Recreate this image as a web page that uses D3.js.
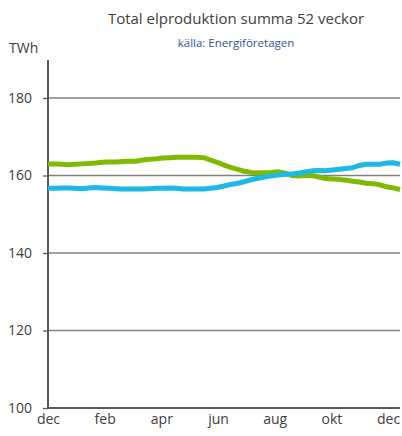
<!DOCTYPE html>
<html><head><meta charset="utf-8">
<script src="https://cdn.jsdelivr.net/npm/d3@7"></script>
<style>
html,body{margin:0;padding:0;background:#fff;}
svg{display:block;font-family:"Open Sans",sans-serif;}
</style></head>
<body>
<svg id="c" width="402" height="436"></svg>
<script>
const title = "Total elproduktion summa 52 veckor";
const subtitle = "källa: Energiföretagen";
const unitLabel = "TWh";
const monthLabels = ["dec","feb","apr","jun","aug","okt","dec"];
const yTicks = [100,120,140,160,180];
const seriesGreen = [163.0,163.0,162.9,162.8,162.9,163.0,163.1,163.2,163.4,163.5,163.5,163.6,163.7,163.7,164.0,164.2,164.3,164.5,164.6,164.7,164.7,164.7,164.7,164.6,164.0,163.4,162.7,162.1,161.6,161.1,160.8,160.7,160.7,160.8,161.0,160.6,160.0,159.9,160.0,160.0,159.6,159.2,159.1,159.0,158.8,158.5,158.3,158.0,157.9,157.6,157.1,156.8,156.4];
const seriesBlue = [156.7,156.7,156.8,156.8,156.7,156.6,156.8,156.9,156.8,156.7,156.6,156.5,156.5,156.5,156.5,156.6,156.7,156.7,156.8,156.7,156.5,156.5,156.5,156.5,156.7,156.9,157.3,157.7,158.0,158.4,158.9,159.3,159.6,159.9,160.1,160.3,160.4,160.6,160.9,161.2,161.3,161.2,161.4,161.6,161.8,162.0,162.6,162.9,162.9,162.9,163.2,163.3,162.9];

const svg = d3.select("#c");
const mLeft = 48, mRight = 400, mTop = 98, mBottom = 408;
const x = d3.scaleLinear().domain([0, 52]).range([mLeft, mRight]);
const weeksPerMonth = 52 / 12.42;
const y = d3.scaleLinear().domain([100, 180]).range([mBottom, mTop]);

svg.append("g").selectAll("line").data(yTicks.filter(d => d > 100)).join("line")
  .attr("x1", mLeft).attr("x2", mRight).attr("y1", d => y(d)).attr("y2", d => y(d))
  .attr("stroke", "#808080").attr("stroke-width", 1.3);

const yAxis = d3.axisLeft(y).tickValues(yTicks).tickSize(5).tickPadding(11);
const gy = svg.append("g").attr("transform", `translate(${mLeft},0)`).call(yAxis);
gy.select(".domain").attr("stroke", "#595959").attr("stroke-width", 2).attr("d", `M0,${mTop - 38}V${mBottom}`);
gy.selectAll(".tick line").attr("stroke", "#595959").attr("stroke-width", 1.3);
gy.selectAll(".tick text").attr("fill", "#404040").style("font-size", "14px").style("font-family", "Open Sans");

const xAxis = d3.axisBottom(x).tickValues(monthLabels.map((d, i) => i * 2 * weeksPerMonth))
  .tickFormat((d, i) => monthLabels[i]).tickSize(0).tickPadding(6);
const gx = svg.append("g").attr("transform", `translate(0,${mBottom})`).call(xAxis);
gx.select(".domain").attr("stroke", "#595959").attr("stroke-width", 2).attr("d", `M${mLeft},0H${mRight}`);
gx.selectAll(".tick text").attr("fill", "#404040").style("font-size", "14px").style("font-family", "Open Sans");

const line = d3.line().x((d, i) => x(i)).y(d => y(d));
svg.append("path").datum(seriesGreen).attr("d", line).attr("fill", "none")
  .attr("stroke", "#7fba00").attr("stroke-width", 5).attr("stroke-linejoin", "round");
svg.append("path").datum(seriesBlue).attr("d", line).attr("fill", "none")
  .attr("stroke", "#1cb8e6").attr("stroke-width", 5).attr("stroke-linejoin", "round");

svg.append("text").attr("x", 236).attr("y", 24).attr("text-anchor", "middle")
  .attr("fill", "#404040").style("font-size", "15px").text(title);
svg.append("text").attr("x", 236).attr("y", 47).attr("text-anchor", "middle")
  .attr("fill", "#2f5597").style("font-size", "11.5px").text(subtitle);
svg.append("text").attr("x", 9).attr("y", 53)
  .attr("fill", "#404040").style("font-size", "14px").text(unitLabel);
</script>
</body></html>
